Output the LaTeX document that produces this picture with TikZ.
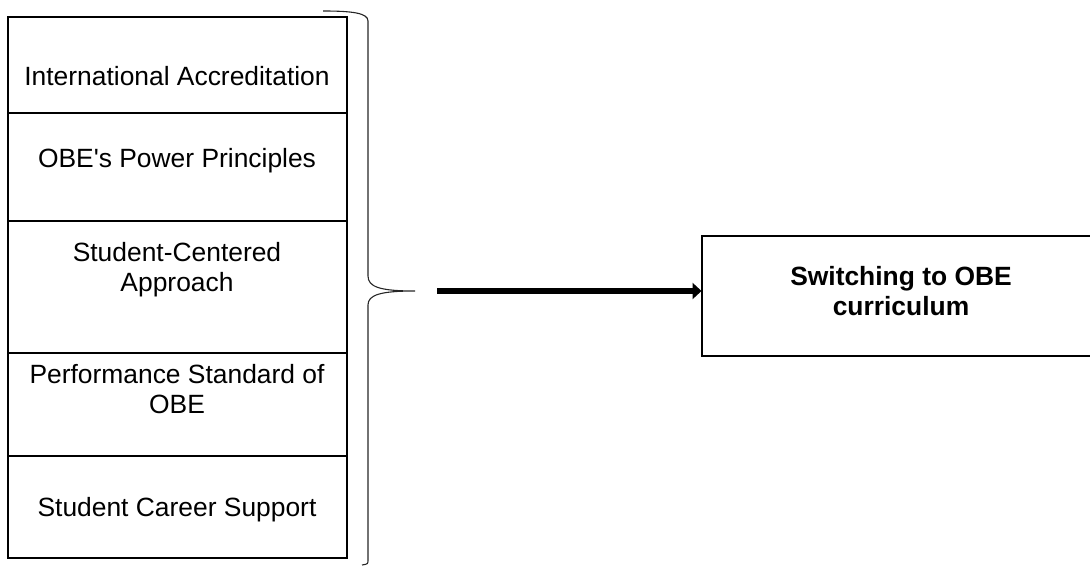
\documentclass[tikz,border=0pt]{standalone}
\usepackage{fontspec}
\setmainfont{Liberation Sans}
\usetikzlibrary{arrows.meta}
\begin{document}
\begin{tikzpicture}[x=0.5pt,y=-0.5pt,
  box/.style={draw, line width=1pt, inner sep=0pt, outer sep=0pt, anchor=north west, minimum width=169.5pt},
  lbl/.style={align=center, font=\fontsize{13.2pt}{15pt}\selectfont, inner sep=0pt},
  bracepath/.style={draw, line width=0.55pt, black!85},
  bigarrow/.style={draw, line width=3.35pt, -{Triangle[length=4.5pt,width=8pt]}}]
\useasboundingbox (0,0) rectangle (1090,566);
\clip (0,0) rectangle (1090,566);
% left column
\node[box, minimum height=48pt]   (b1) at (7.5,17)  {};
\node[box, minimum height=54pt]   (b2) at (7.5,113) {};
\node[box, minimum height=66pt]   (b3) at (7.5,221) {};
\node[box, minimum height=51.5pt] (b4) at (7.5,353) {};
\node[box, minimum height=51pt]   (b5) at (7.5,456) {};
\node[lbl] (t1) at (177,76)  {International Accreditation};
\node[lbl] (t2) at (177,161) {OBE\textquotesingle s Power Principles};
\node[lbl] (t3) at (177,270) {Student-Centered\\Approach};
\node[lbl] (t4) at (177,389) {Performance Standard of\\OBE};
\node[lbl] (t5) at (177,510) {Student Career Support};
% brace
\path[bracepath] (323,11) .. controls (352,11) and (368,13) .. (368,21)
  -- (368,276) .. controls (368,287) and (380,291) .. (415,291) coordinate (tip)
  .. controls (380,291) and (368,295) .. (368,305)
  -- (368,560) .. controls (368,564) .. (362,565);
% target box
\node[box, minimum width=200pt, minimum height=60pt] (target) at (701.5,236) {};
\node[lbl, font=\fontsize{13.2pt}{15pt}\bfseries\selectfont] (tt) at (901,291) {Switching to OBE\\curriculum};
% arrow
\coordinate (start) at (437,291);
\path[bigarrow] (start) -- (start -| target.west);
\end{tikzpicture}
\end{document}
